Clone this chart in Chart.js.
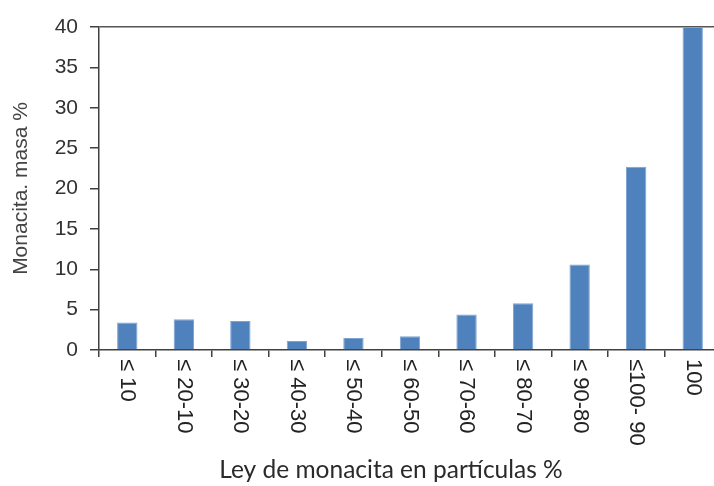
<!DOCTYPE html>
<html>
<head>
<meta charset="utf-8">
<script src="https://cdn.jsdelivr.net/npm/chart.js@4"></script>
<style>
  html, body { margin: 0; padding: 0; background: #fff; overflow: hidden; }
  canvas { display: block; }
</style>
</head>
<body>
<canvas id="chart" width="724" height="486"></canvas>
<script>
const categories = ['≤ 10', '≤ 20-10', '≤ 30-20', '≤ 40-30', '≤ 50-40', '≤ 60-50', '≤ 70-60', '≤ 80-70', '≤ 90-80', '≤100- 90', '100'];
const masa = [3.4, 3.8, 3.6, 1.1, 1.5, 1.7, 4.4, 5.8, 10.6, 22.7, 40];
const yTitle = 'Monacita. masa %';
const xTitle = 'Ley de monacita en partículas %';

const FONT = 'Liberation Sans, Arial, sans-serif';
const AXIS = '#404040';

// x labels read top-down (rotated clockwise), draw them ourselves
const rotatedLabels = {
    id: 'rotatedLabels',
    afterDraw(chart) {
        const ctx = chart.ctx;
        const x = chart.scales.x;
        ctx.save();
        ctx.font = '22px ' + FONT;
        ctx.fillStyle = '#222';
        ctx.textAlign = 'left';
        ctx.textBaseline = 'middle';
        categories.forEach((lab, i) => {
            const px = x.getPixelForValue(i);
            ctx.save();
            ctx.translate(px, x.top + 9);
            ctx.rotate(Math.PI / 2);
            ctx.fillText(lab, 0, 0);
            ctx.restore();
        });
        // axis title sits a bit left of the plot centre in the original
        ctx.font = '24.5px Lato, Carlito, sans-serif';
        ctx.fillStyle = '#2a2a2a';
        ctx.textAlign = 'center';
        ctx.fillText(xTitle, 391, 470);
        ctx.restore();
    }
};

new Chart(document.getElementById('chart'), {
    type: 'bar',
    data: {
        labels: categories,
        datasets: [{
            data: masa,
            backgroundColor: '#4F81BD',
            borderColor: '#7FA3D1',
            borderWidth: 1,
            barPercentage: 0.36,
            categoryPercentage: 1
        }]
    },
    options: {
        responsive: false,
        animation: false,
        layout: { padding: { top: 27, right: 3, left: 0, bottom: 0 } },
        plugins: {
            legend: { display: false },
            tooltip: { enabled: false }
        },
        scales: {
            x: {
                offset: true,
                afterFit(scale) { scale.height = 136; },
                ticks: { display: false },
                grid: {
                    offset: true,
                    drawOnChartArea: false,
                    tickLength: 7,
                    tickColor: AXIS,
                    lineWidth: 1.5
                },
                border: { color: AXIS, width: 1.5 }
            },
            y: {
                min: 0,
                max: 40,
                afterFit(scale) { scale.width = 99; },
                ticks: {
                    stepSize: 5,
                    padding: 12,
                    color: '#333',
                    font: { family: FONT, size: 21 }
                },
                grid: {
                    tickLength: 9,
                    tickColor: AXIS,
                    lineWidth: 1.5,
                    color: ctx => ctx.tick && ctx.tick.value === 40 ? '#555' : 'rgba(0,0,0,0)'
                },
                border: { color: AXIS, width: 1.5 },
                title: {
                    display: true,
                    text: yTitle,
                    color: '#444',
                    font: { family: FONT, size: 21 },
                    padding: { top: 9, bottom: 0 }
                }
            }
        }
    },
    plugins: [rotatedLabels]
});
</script>
</body>
</html>
